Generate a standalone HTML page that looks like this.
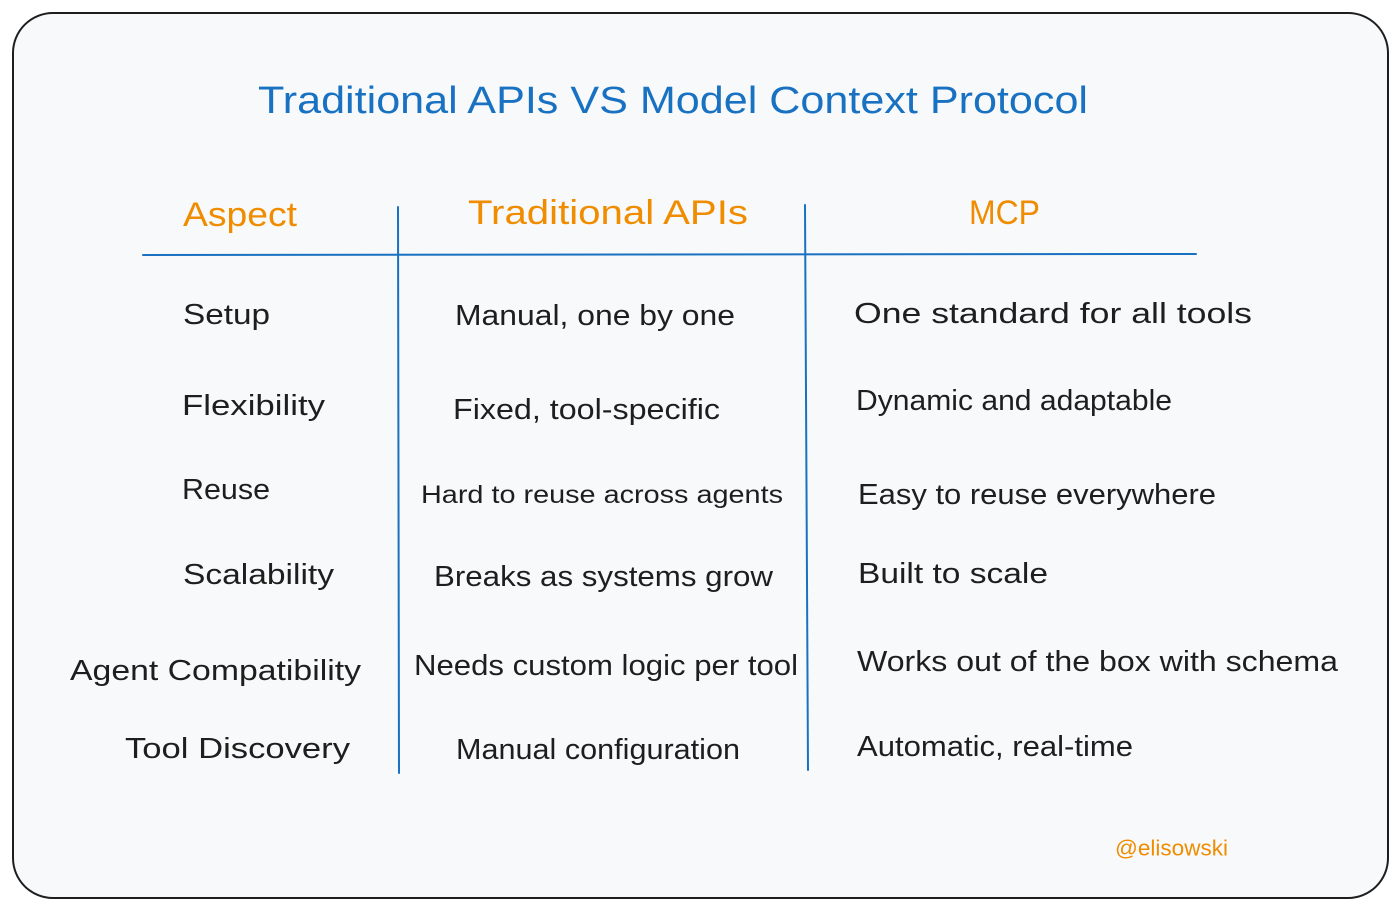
<!DOCTYPE html>
<html><head><meta charset="utf-8"><style>html,body{margin:0;padding:0;background:#fff;}svg{display:block}</style></head>
<body>
<svg width="1400" height="911" viewBox="0 0 1400 911" xmlns="http://www.w3.org/2000/svg" font-family="Liberation Sans, sans-serif">
<rect x="13" y="13" width="1375" height="885" rx="40" ry="40" fill="#f8f9fa" stroke="#1e1e1e" stroke-width="2"/>
<g dominant-baseline="central" lengthAdjust="spacingAndGlyphs">
<text x="258" y="101" font-size="38" fill="#1971c2" textLength="830" lengthAdjust="spacingAndGlyphs">Traditional APIs VS Model Context Protocol</text>
<g fill="#f08c00" font-size="34">
<text x="183" y="215" textLength="114" lengthAdjust="spacingAndGlyphs">Aspect</text>
<text x="468" y="213" textLength="280" lengthAdjust="spacingAndGlyphs">Traditional APIs</text>
<text x="969" y="213" textLength="71" lengthAdjust="spacingAndGlyphs">MCP</text>
</g>
<g fill="#1e1e1e" font-size="29">
<text x="183" y="315" textLength="87" lengthAdjust="spacingAndGlyphs">Setup</text>
<text x="455" y="316" textLength="280" lengthAdjust="spacingAndGlyphs">Manual, one by one</text>
<text x="854" y="314" textLength="398" lengthAdjust="spacingAndGlyphs">One standard for all tools</text>
<text x="182" y="406" textLength="143" lengthAdjust="spacingAndGlyphs">Flexibility</text>
<text x="453" y="410" textLength="267" lengthAdjust="spacingAndGlyphs">Fixed, tool-specific</text>
<text x="856" y="401" textLength="316" lengthAdjust="spacingAndGlyphs">Dynamic and adaptable</text>
<text x="182" y="490" textLength="88" lengthAdjust="spacingAndGlyphs">Reuse</text>
<text x="421" y="495" font-size="25" textLength="362" lengthAdjust="spacingAndGlyphs">Hard to reuse across agents</text>
<text x="858" y="495" textLength="358" lengthAdjust="spacingAndGlyphs">Easy to reuse everywhere</text>
<text x="183" y="575" textLength="151" lengthAdjust="spacingAndGlyphs">Scalability</text>
<text x="434" y="577" textLength="339" lengthAdjust="spacingAndGlyphs">Breaks as systems grow</text>
<text x="858" y="574" textLength="190" lengthAdjust="spacingAndGlyphs">Built to scale</text>
<text x="70" y="671" textLength="291" lengthAdjust="spacingAndGlyphs">Agent Compatibility</text>
<text x="414" y="666" textLength="384" lengthAdjust="spacingAndGlyphs">Needs custom logic per tool</text>
<text x="857" y="662" textLength="481" lengthAdjust="spacingAndGlyphs">Works out of the box with schema</text>
<text x="125" y="749" textLength="225" lengthAdjust="spacingAndGlyphs">Tool Discovery</text>
<text x="456" y="750" textLength="284" lengthAdjust="spacingAndGlyphs">Manual configuration</text>
<text x="857" y="747" textLength="276" lengthAdjust="spacingAndGlyphs">Automatic, real-time</text>
</g>
<text x="1115" y="848" font-size="22" fill="#f08c00" textLength="113" lengthAdjust="spacingAndGlyphs">@elisowski</text>
</g>
<g stroke="#1971c2" stroke-width="2" fill="none" stroke-linecap="round">
<path d="M143 255 L1196 254"/>
<path d="M398 207 L399 773"/>
<path d="M805 205 L808 770"/>
</g>
</svg>
</body></html>
